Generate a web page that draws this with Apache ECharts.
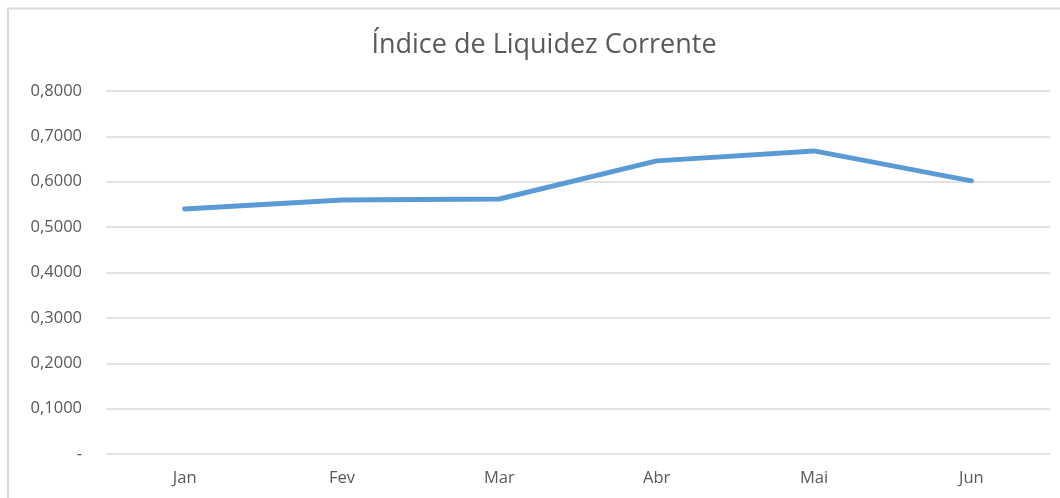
<!DOCTYPE html>
<html>
<head>
<meta charset="utf-8">
<script src="https://cdn.jsdelivr.net/npm/echarts@6/dist/echarts.min.js"></script>
<style>html,body{margin:0;padding:0;background:#fff}#c{width:1060px;height:498px}</style>
</head>
<body>
<div id="c"></div>
<script>
const titleText = 'Índice de Liquidez Corrente';
const categories = ['Jan', 'Fev', 'Mar', 'Abr', 'Mai', 'Jun'];
const values = [0.540, 0.560, 0.562, 0.646, 0.668, 0.602];
const yMin = 0, yMax = 0.8, yStep = 0.1;

const chart = echarts.init(document.getElementById('c'));
const font = '"Open Sans", sans-serif';
chart.setOption({
  animation: false,
  backgroundColor: '#fff',
  title: {
    text: titleText, left: 539, top: 27, textAlign: 'center',
    textStyle: { fontFamily: font, fontSize: 27, fontWeight: 'normal', color: '#595959' }
  },
  graphic: [{
    type: 'rect', shape: { x: 8, y: 8.5, width: 1100, height: 600 },
    style: { fill: 'none', stroke: '#d9d9d9', lineWidth: 2 }, silent: true
  }],
  grid: { left: 106, right: 10, top: 91, bottom: 44 },
  xAxis: {
    type: 'category', data: categories, boundaryGap: true,
    axisLine: { show: false }, axisTick: { show: false },
    axisLabel: { fontFamily: font, fontSize: 16.5, color: '#595959', margin: 16 }
  },
  yAxis: {
    type: 'value', min: yMin, max: yMax, interval: yStep,
    axisLine: { show: false }, axisTick: { show: false },
    splitLine: { lineStyle: { color: '#d9d9d9', width: 1.5 } },
    axisLabel: {
      fontFamily: font, fontSize: 16.5, color: '#595959', margin: 24,
      formatter: v => v === 0 ? '-' : v.toFixed(4).replace('.', ',')
    }
  },
  series: [{
    type: 'line', data: values, symbol: 'none',
    lineStyle: { color: '#5b9bd5', width: 5, cap: 'round', join: 'round' }
  }]
});
</script>
</body>
</html>
